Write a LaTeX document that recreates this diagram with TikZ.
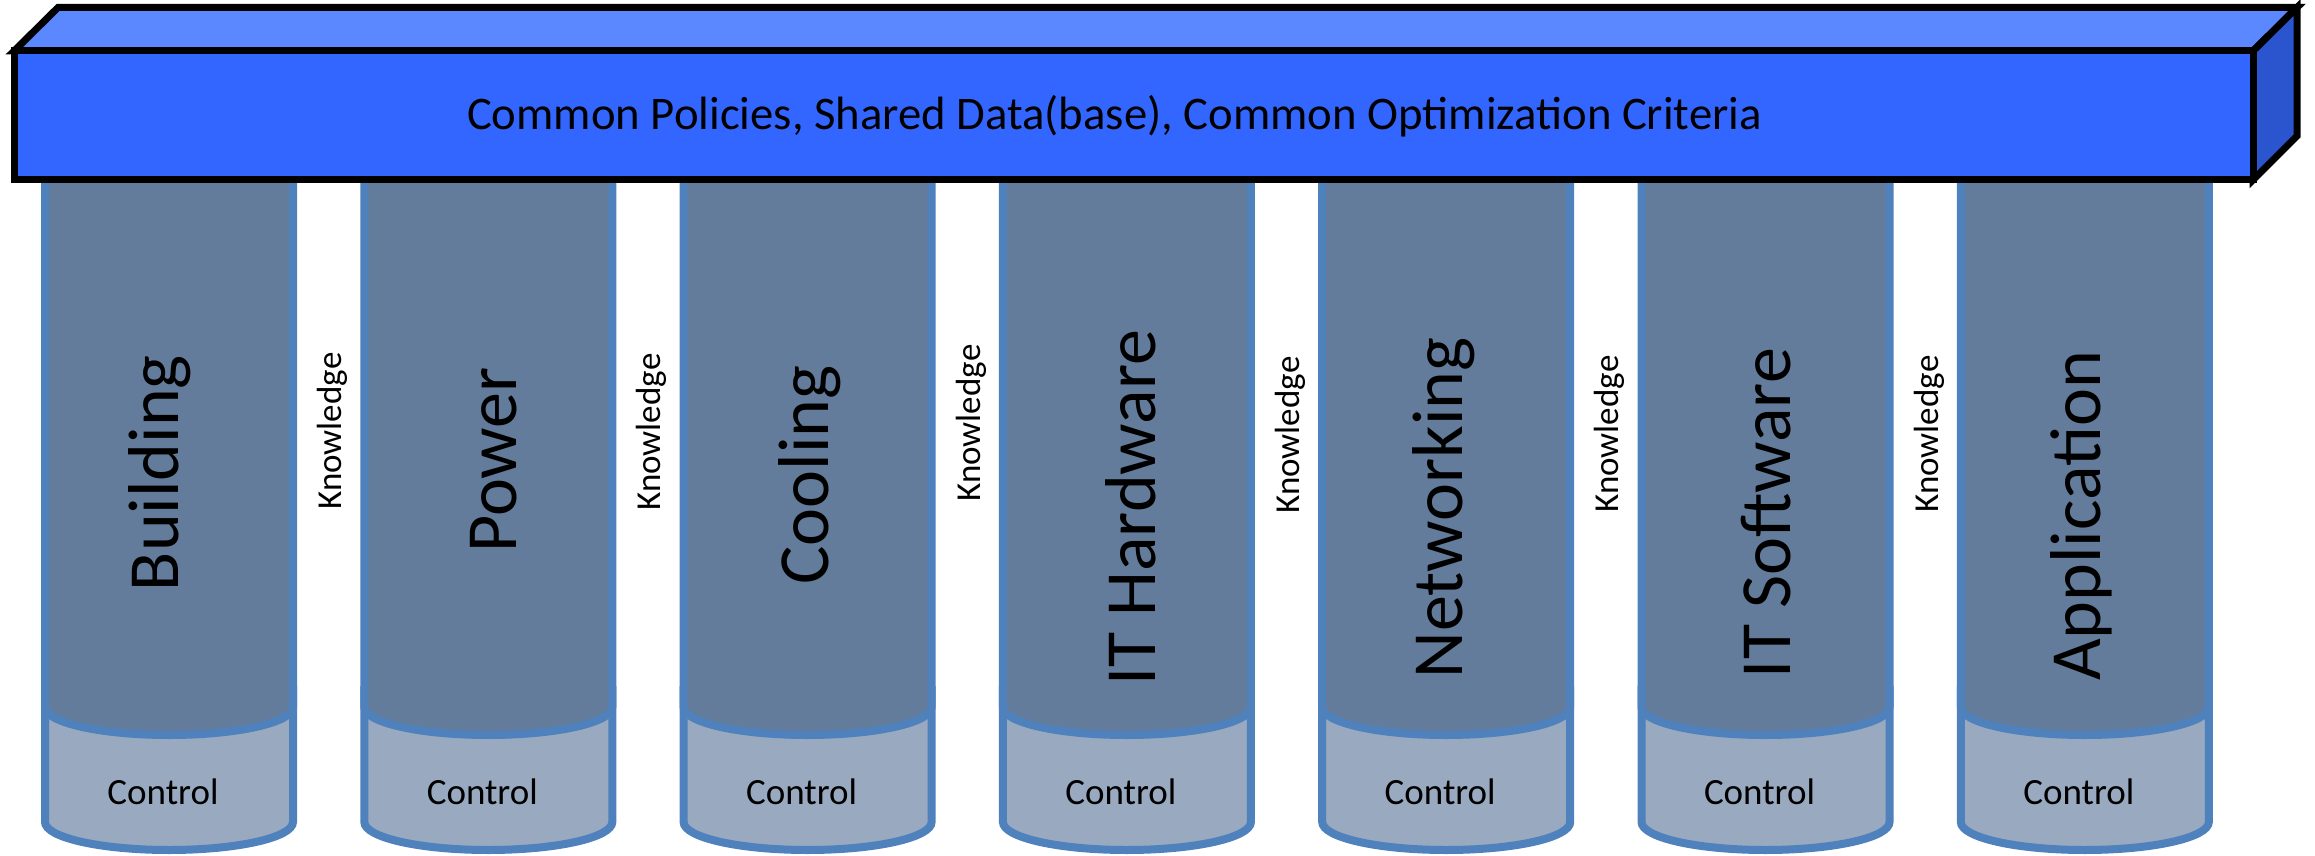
\documentclass[tikz,border=0pt]{standalone}
\usepackage{fontspec}
\setmainfont{Carlito}
\definecolor{boxfront}{HTML}{3366FF}
\definecolor{boxtop}{HTML}{5B87FF}
\definecolor{boxside}{HTML}{2A55CF}
\definecolor{coldark}{HTML}{647C9B}
\definecolor{colline}{HTML}{4F81BD}
\definecolor{collight}{HTML}{98A9C0}
\begin{document}
\begin{tikzpicture}[x=1pt,y=1pt,
  colbody/.style={fill=coldark,draw=colline,line width=8pt},
  colbase/.style={fill=collight,draw=colline,line width=8pt},
  boxface/.style={draw=black,line width=7pt,line join=miter},
  bigtext/.style={rotate=90,anchor=base,font=\fontsize{72}{80}\selectfont,inner sep=0pt},
  ktext/.style={rotate=90,anchor=base,font=\fontsize{35}{40}\selectfont,inner sep=0pt},
  ctext/.style={anchor=base,font=\fontsize{37}{40}\selectfont,inner sep=0pt},
  ttext/.style={anchor=base,font=\fontsize{46.7}{50}\selectfont,inner sep=0pt}]
\useasboundingbox (0,0) rectangle (2315,855);
% columns
\foreach \i/\lab/\bx/\cy in {0/Building/178/473,1/Power/516/460,2/Cooling/828/475,3/IT Hardware/1155/508,4/Networking/1462/508,5/IT Software/1790/513,6/Application/2100/516} {
  \pgfmathsetmacro\cx{169+319.3*\i}
  \draw[colbase] (\cx-124,165) -- (\cx-124,33) arc[start angle=180,end angle=360,x radius=124,y radius=28] -- (\cx+124,165) -- cycle;
  \draw[colbody] (\cx-124,695) -- (\cx-124,148) arc[start angle=180,end angle=360,x radius=124,y radius=28] -- (\cx+124,695) -- cycle;
  \node[bigtext] (lab\i) at (\bx,855-\cy) {\lab};
  \node[ctext] (ctl\i) at (\cx-6,855-804) {Control};
}
% knowledge labels
\foreach \i/\cy in {0/431,1/432,2/423,3/435,4/434,5/434} {
  \pgfmathsetmacro\gx{329.5+319.3*\i+12}
  \node[ktext] (k\i) at (\gx,855-\cy) {Knowledge};
}
% top bar
\draw[boxface,fill=boxtop] (14,804) -- (58,847.5) -- (2297,847.5) -- (2253,804) -- cycle;
\draw[boxface,fill=boxside] (2253,804) -- (2297,847.5) -- (2297,719) -- (2253,675) -- cycle;
\draw[boxface,fill=boxfront] (14,675) rectangle (2253,804);
\node[ttext] (title) at (1114.5,855-130) {Common Policies, Shared Data(base), Common Optimization Criteria};
\end{tikzpicture}
\end{document}
